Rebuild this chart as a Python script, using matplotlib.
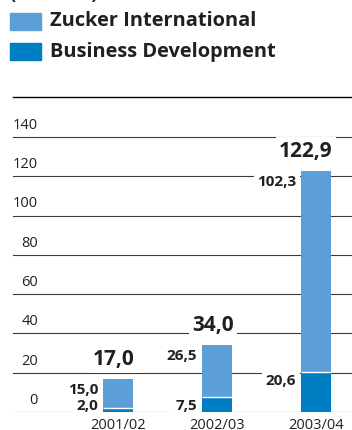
import matplotlib.pyplot as plt
import matplotlib.patches as mpatches
from matplotlib.transforms import IdentityTransform

plt.rcParams['font.family'] = ['Open Sans', 'DejaVu Sans']

# data
years = ['2001/02', '2002/03', '2003/04']
business_dev = [2.0, 7.5, 20.6]
zucker_int = [15.0, 26.5, 102.3]
totals = [17.0, 34.0, 122.9]
yticks = [0, 20, 40, 60, 80, 100, 120, 140]

col_light = '#5b9fd6'
col_dark = '#007ec3'
txt = '#231f20'

W, H = 352, 430
fig = plt.figure(figsize=(W / 100, H / 100), dpi=100)

# axes placed in pixels: 0 at y=412 from top, top rule at y=97
left_px, right_px = 13, 352
zero_px, top_px = 412, 97
px_per_unit = (412 - 137) / 140.0
ymax = (zero_px - top_px) / px_per_unit
ax = fig.add_axes([left_px / W, (H - zero_px) / H, (right_px - left_px) / W, (zero_px - top_px) / H])
ax.set_ylim(0, ymax)
unit_x = 99.0
ax.set_xlim((left_px - 118) / unit_x, (right_px - 118) / unit_x)
ax.axis('off')

# top rule
ax.axhline(ymax, color='black', lw=1.0, clip_on=False)

# grid lines + labels
for v in yticks:
    ax.axhline(v, color='#3a3a3a', lw=0.8, zorder=1)
    ax.annotate(str(v), xy=(38, v), xycoords=('figure pixels', 'data'),
                xytext=(0, 3), textcoords='offset points',
                ha='right', va='bottom', fontsize=10.5, color=txt)

x = list(range(len(years)))
bw = 0.313
ax.bar(x, business_dev, width=bw, color=col_dark, zorder=3)
ax.bar(x, zucker_int, width=bw, bottom=business_dev, color=col_light, zorder=3)
ax.hlines(business_dev, [i - bw / 2 for i in x], [i + bw / 2 for i in x],
          color='white', lw=1.0, zorder=4)

box = dict(facecolor='white', edgecolor='none', pad=2.5)
for i in x:
    # totals
    ax.annotate(f'{totals[i]:.1f}'.replace('.', ','), xy=(i + bw / 2, totals[i]),
                xytext=(1, 10), textcoords='offset points', ha='right', va='baseline',
                fontsize=15, fontweight='bold', color=txt, bbox=box, zorder=5)
    # segment labels
    ax.annotate(f'{zucker_int[i]:.1f}'.replace('.', ','), xy=(i - bw / 2, totals[i]),
                xytext=(-3, -3), textcoords='offset points', ha='right', va='top',
                fontsize=11, fontweight='bold', color=txt, bbox=box, zorder=5)
    ax.annotate(f'{business_dev[i]:.1f}'.replace('.', ','), xy=(i - bw / 2, max(business_dev[i], 8)),
                xytext=(-3, -2), textcoords='offset points', ha='right', va='top',
                fontsize=11, fontweight='bold', color=txt, bbox=box, zorder=5)
    # year labels
    ax.annotate(years[i], xy=(i, 0), xytext=(0, -4), textcoords='offset points',
                ha='center', va='top', fontsize=10.5, color=txt)

# legend (manual, in pixels from top-left)
for j, (lab, c) in enumerate([('Zucker International', col_light),
                              ('Business Development', col_dark)]):
    ytop = 13 + 30 * j
    fig.add_artist(mpatches.Rectangle((10, H - ytop - 17), 31, 17, color=c,
                                      transform=IdentityTransform()))
    fig.text(50 / W, (H - ytop - 8.5) / H, lab, ha='left', va='center',
             fontsize=14.4, fontweight='bold', color=txt)

# cut-off unit line at the very top
fig.text(10 / W, (H + 1) / H, '(in Mio. €)', ha='left', va='baseline',
         fontsize=13, fontweight='bold', color=txt)

fig.savefig('out.png', dpi=100)
